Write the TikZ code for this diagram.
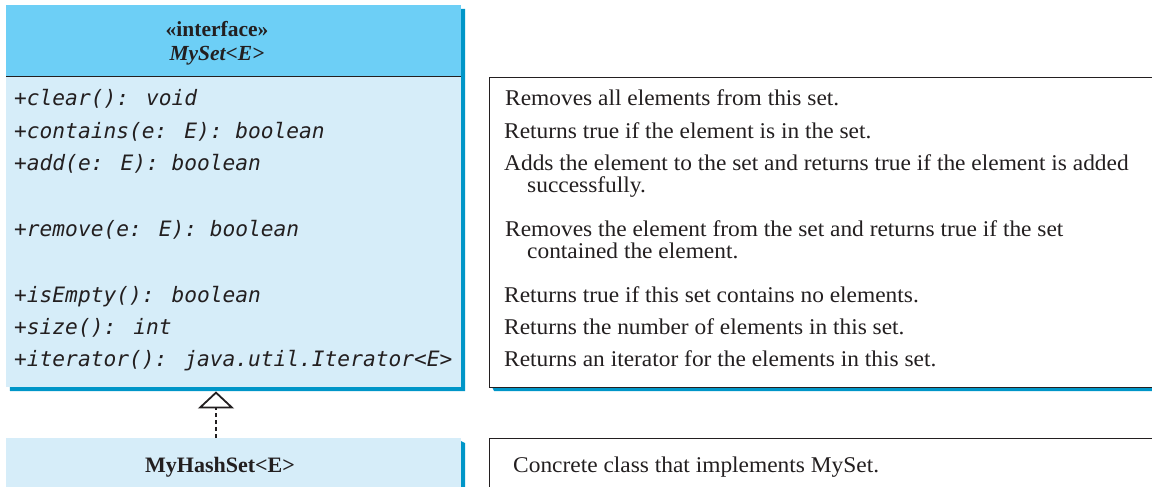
\documentclass[tikz,border=0pt]{standalone}
\usepackage{fontspec}
\setmainfont{Liberation Serif}
\newfontfamily\descfont{Liberation Serif}[FakeStretch=1.04]
\newfontfamily\methfont{DejaVu Sans Mono Oblique}
\usetikzlibrary{arrows.meta}

\definecolor{hdrblue}{HTML}{6DCFF6}
\definecolor{bodyblue}{HTML}{D6EDF9}
\definecolor{shadowblue}{HTML}{0096C8}
\definecolor{inkgray}{HTML}{231F20}

\tikzset{
  umlbox/.style={rectangle, inner sep=0pt, anchor=north west, minimum width=455pt},
  descbox/.style={rectangle, draw=inkgray, line width=1.1pt, fill=white, inner sep=0pt,
                  anchor=north west, minimum width=700pt},
  meth/.style={anchor=base west, inner sep=0pt, text=inkgray,
               font=\methfont\fontsize{21.2}{24}\selectfont},
  desc/.style={anchor=base west, inner sep=0pt, text=inkgray,
               font=\descfont\fontsize{22.5}{24}\selectfont},
  title/.style={anchor=base, inner sep=0pt, text=inkgray},
  implements/.style={draw=inkgray, line width=2.2pt, dash pattern=on 4pt off 3pt,
                     -{Triangle[open, length=17pt, width=36pt, line width=1.8pt]}}
}

\begin{document}
\begin{tikzpicture}[x=1pt, y=-1pt]
\useasboundingbox (0,0) rectangle (1152,487);
\clip (0,0) rectangle (1152,487);

% interface box: shadow, header and member compartment
\fill[shadowblue] (9,9) -- (465,9) -- (465,391) -- (10,391) -- cycle;
\node[umlbox, fill=hdrblue, minimum height=71pt] (hdr) at (6,5) {};
\node[umlbox, fill=bodyblue, minimum height=311pt] (body) at (6,76) {};
\draw[inkgray, line width=1.2pt] (hdr.south west) -- (hdr.south east);

\node[title, font=\bfseries\fontsize{21.5}{24}\selectfont] (stereo) at (217,37) {«interface»};
\node[title, font=\bfseries\itshape\fontsize{21.5}{24}\selectfont] (iname) at (217,61) {MySet<E>};

\node[meth] (m1) at (14,106) {+clear(): void};
\node[meth] (m2) at (14,138) {+contains(e: E): boolean};
\node[meth] (m3) at (14,170) {+add(e: E): boolean};
\node[meth] (m4) at (14,236) {+remove(e: E): boolean};
\node[meth] (m5) at (14,302) {+isEmpty(): boolean};
\node[meth] (m6) at (14,334) {+size(): int};
\node[meth] (m7) at (14,366) {+iterator(): java.util.Iterator<E>};

% description panel for the interface
\fill[shadowblue] (492,387) -- (1160,387) -- (1160,391) -- (494,391) -- cycle;
\node[descbox, minimum height=310pt] (dbox) at (489,77) {};

\node[desc] (d1)  at (505,106) {Removes all elements from this set.};
\node[desc] (d2)  at (504,138) {Returns true if the element is in the set.};
\node[desc] (d3)  at (504,170) {Adds the element to the set and returns true if the element is added};
\node[desc] (d3b) at (527,192) {successfully.};
\node[desc] (d4)  at (505,236) {Removes the element from the set and returns true if the set};
\node[desc] (d4b) at (527,258) {contained the element.};
\node[desc] (d5)  at (504,302) {Returns true if this set contains no elements.};
\node[desc] (d6)  at (504,334) {Returns the number of elements in this set.};
\node[desc] (d7)  at (504,366) {Returns an iterator for the elements in this set.};

% implementing class and its description
\fill[shadowblue] (461,441) -- (465,443) -- (465,490) -- (461,490) -- cycle;
\node[umlbox, fill=bodyblue, minimum height=60pt] (impl) at (6,438) {};
\node[title, font=\bfseries\fontsize{22}{24}\selectfont] (cname) at (220,472) {MyHashSet<E>};

\node[descbox, minimum height=60pt] (dbox2) at (489,438) {};
\node[desc] (d8) at (513,472) {Concrete class that implements MySet.};

% realization arrow
\coordinate (tip) at ([yshift=-4pt]body.south -| 216,0);
\draw[implements] (impl.north -| tip) -- (tip);
\end{tikzpicture}
\end{document}
